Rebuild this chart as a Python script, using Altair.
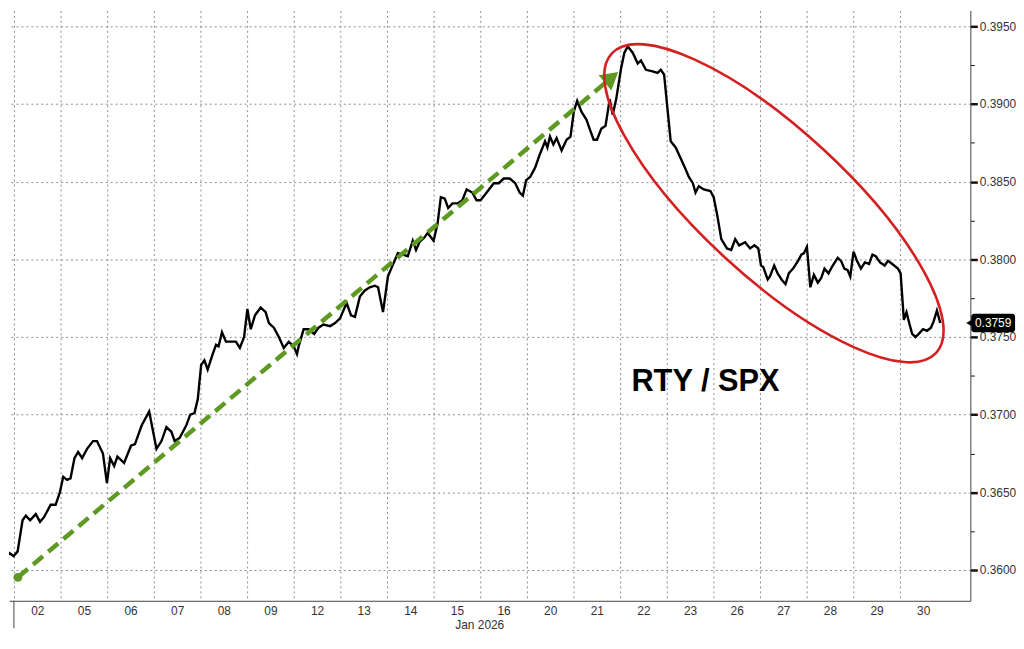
import altair as alt
import pandas as pd

# ---- data ----
DAYS = ["02", "05", "06", "07", "08", "09", "12", "13", "14", "15", "16",
        "20", "21", "22", "23", "26", "27", "28", "29", "30"]

# position in trading-day units (0 = start of Jan 02 session)
POS = [-0.277, -0.219, -0.100, -0.006, 0.079, 0.185, 0.255, 0.347, 0.468, 0.560,
       0.645, 0.787, 0.894, 0.985, 1.057, 1.142, 1.213, 1.298, 1.377, 1.462,
       1.568, 1.696, 1.781, 1.909, 1.994, 2.064, 2.149, 2.219, 2.362, 2.511,
       2.596, 2.738, 2.900, 3.057, 3.164, 3.270, 3.377, 3.447, 3.553, 3.694,
       3.781, 3.872, 3.943, 4.015, 4.085, 4.155, 4.262, 4.334, 4.389, 4.462,
       4.547, 4.687, 4.760, 4.845, 4.936, 5.006, 5.079, 5.170, 5.291, 5.398,
       5.468, 5.574, 5.681, 5.787, 5.894, 6.000, 6.070, 6.106, 6.213, 6.319,
       6.440, 6.532, 6.638, 6.781, 6.887, 6.994, 7.134, 7.228, 7.313, 7.419,
       7.526, 7.632, 7.738, 7.809, 7.915, 8.021, 8.091, 8.234, 8.340, 8.447,
       8.553, 8.623, 8.696, 8.802, 8.872, 9.000, 9.085, 9.155, 9.240, 9.313,
       9.404, 9.511, 9.617, 9.709, 9.830, 9.921, 10.006, 10.113, 10.291, 10.398,
       10.504, 10.632, 10.751, 10.845, 10.915, 10.985, 11.070, 11.177, 11.283, 11.390,
       11.440, 11.496, 11.568, 11.638, 11.745, 11.851, 11.936, 12.006, 12.079, 12.170,
       12.277, 12.347, 12.432, 12.504, 12.596, 12.687, 12.777, 12.841, 12.915, 13.021,
       13.091, 13.164, 13.270, 13.377, 13.447, 13.553, 13.696, 13.802, 13.872, 13.943,
       14.015, 14.085, 14.191, 14.298, 14.404, 14.474, 14.560, 14.617, 14.687, 14.794,
       14.936, 15.006, 15.079, 15.170, 15.291, 15.383, 15.468, 15.553, 15.681, 15.787,
       15.879, 15.964, 16.021, 16.070, 16.164, 16.213, 16.304, 16.376, 16.462, 16.547,
       16.617, 16.709, 16.815, 16.887, 16.943, 17.006, 17.079, 17.155, 17.240, 17.313,
       17.383, 17.468, 17.560, 17.666, 17.738, 17.809, 17.879, 17.936, 18.006, 18.079,
       18.164, 18.249, 18.340, 18.411, 18.483, 18.574, 18.674, 18.745, 18.836, 18.957,
       19.015, 19.085, 19.142, 19.191, 19.262, 19.334, 19.404, 19.496, 19.581, 19.666,
       19.723, 19.794, 19.866]

RATIO = [0.3606, 0.3605, 0.3611, 0.3609, 0.3612, 0.3632, 0.3635, 0.3632, 0.3636, 0.3631,
         0.3634, 0.3642, 0.3642, 0.3650, 0.3660, 0.3658, 0.3659, 0.3672, 0.3676, 0.3672,
         0.3678, 0.3683, 0.3683, 0.3675, 0.3656, 0.3672, 0.3667, 0.3673, 0.3669, 0.3680,
         0.3681, 0.3693, 0.3702, 0.3678, 0.3683, 0.3692, 0.3689, 0.3683, 0.3685, 0.3693,
         0.3700, 0.3701, 0.3710, 0.3732, 0.3735, 0.3729, 0.3739, 0.3745, 0.3744, 0.3753,
         0.3747, 0.3747, 0.3747, 0.3743, 0.3750, 0.3768, 0.3755, 0.3764, 0.3769, 0.3766,
         0.3759, 0.3756, 0.3750, 0.3743, 0.3747, 0.3744, 0.3739, 0.3744, 0.3755, 0.3755,
         0.3752, 0.3756, 0.3758, 0.3757, 0.3759, 0.3762, 0.3772, 0.3764, 0.3763, 0.3776,
         0.3780, 0.3782, 0.3783, 0.3782, 0.3766, 0.3789, 0.3794, 0.3804, 0.3803, 0.3802,
         0.3812, 0.3806, 0.3811, 0.3814, 0.3817, 0.3812, 0.3823, 0.3840, 0.3839, 0.3833,
         0.3836, 0.3836, 0.3838, 0.3845, 0.3843, 0.3838, 0.3838, 0.3842, 0.3849, 0.3849,
         0.3852, 0.3852, 0.3849, 0.3843, 0.3841, 0.3851, 0.3853, 0.3859, 0.3868, 0.3876,
         0.3872, 0.3879, 0.3874, 0.3878, 0.3870, 0.3877, 0.3879, 0.3895, 0.3902, 0.3895,
         0.3890, 0.3884, 0.3877, 0.3877, 0.3884, 0.3886, 0.3903, 0.3893, 0.3903, 0.3923,
         0.3933, 0.3937, 0.3933, 0.3926, 0.3928, 0.3922, 0.3921, 0.3920, 0.3922, 0.3919,
         0.3897, 0.3876, 0.3872, 0.3865, 0.3858, 0.3853, 0.3849, 0.3843, 0.3847, 0.3845,
         0.3844, 0.3840, 0.3829, 0.3813, 0.3807, 0.3806, 0.3813, 0.3809, 0.3811, 0.3807,
         0.3809, 0.3807, 0.3796, 0.3795, 0.3787, 0.3789, 0.3796, 0.3791, 0.3787, 0.3784,
         0.3791, 0.3794, 0.3799, 0.3803, 0.3804, 0.3808, 0.3782, 0.3790, 0.3785, 0.3788,
         0.3794, 0.3791, 0.3796, 0.3801, 0.3799, 0.3794, 0.3793, 0.3789, 0.3805, 0.3799,
         0.3794, 0.3798, 0.3797, 0.3803, 0.3802, 0.3798, 0.3796, 0.3799, 0.3797, 0.3794,
         0.3791, 0.3761, 0.3766, 0.3760, 0.3752, 0.3750, 0.3752, 0.3755, 0.3754, 0.3756,
         0.3760, 0.3767, 0.3759]

Y_TICKS = [0.3600, 0.3625, 0.3650, 0.3675, 0.3700, 0.3725, 0.3750, 0.3775,
           0.3800, 0.3825, 0.3850, 0.3875, 0.3900, 0.3925, 0.3950]

LAST_VALUE = 0.3759
LAST_LABEL = "0.3759"

# trend arrow (green dashed), start dot and head
TREND_POS = [0.085, 12.677]
TREND_RATIO = [0.35953, 0.39135]
HEAD_POS = [12.817]
HEAD_RATIO = [0.39171]

# red ellipse (centre)
ELLIPSE_POS = [16.298]
ELLIPSE_RATIO = [0.38361]

# annotation text
NOTE_TEXT = ["RTY / SPX"]
NOTE_POS = [14.83]
NOTE_RATIO = [0.3721]

# month separator below the axis (start of January session)
SEP_POS = [0.0]
SEP_FROM = [0.35802]
SEP_TO = [0.35625]

# ---- tables ----
df = pd.DataFrame({"pos": POS, "ratio": RATIO})
trend = pd.DataFrame({"pos": TREND_POS, "ratio": TREND_RATIO})
dot = trend.iloc[[0]]
head = pd.DataFrame({"pos": HEAD_POS, "ratio": HEAD_RATIO})
ell = pd.DataFrame({"pos": ELLIPSE_POS, "ratio": ELLIPSE_RATIO})
note = pd.DataFrame({"pos": NOTE_POS, "ratio": NOTE_RATIO, "txt": NOTE_TEXT})
box = pd.DataFrame({"pos": [20.53], "pos2": [21.47],
                    "ratio": [LAST_VALUE - 0.0006], "ratio2": [LAST_VALUE + 0.0006]})
lab = pd.DataFrame({"pos": [21.0], "ratio": [LAST_VALUE], "txt": [LAST_LABEL]})
ptr = pd.DataFrame({"pos": [20.50], "ratio": [LAST_VALUE]})
sep = pd.DataFrame({"pos": SEP_POS, "ratio": SEP_FROM, "ratio2": SEP_TO})

FONT = "Liberation Sans"
GRID = "#8c8c8c"
GREEN = "#5e9a22"

xscale = alt.Scale(domain=[-0.106, 20.511], nice=False, zero=False)
yscale = alt.Scale(domain=[0.35802, 0.39602], nice=False, zero=False)

label_arr = "[" + ",".join("'" + d + "'" for d in DAYS) + "]"
major = "round(datum.value*10000) % 50 === 0"

xaxis = alt.Axis(
    values=list(range(len(DAYS))),
    labelExpr=label_arr + "[datum.value]",
    labelOffset=23.5, labelFlush=False, labelOverlap=False,
    ticks=False, grid=True, gridDash=[2, 3], gridColor=GRID, gridWidth=1,
    domainColor="#444", domainWidth=1,
    labelFont=FONT, labelFontSize=12, labelColor="#333", labelPadding=5,
    title="Jan 2026", titleFont=FONT, titleFontSize=12, titleFontWeight="normal",
    titleColor="#333", titleX=474, titleAlign="center", titlePadding=3,
)

yaxis = alt.Axis(
    orient="right", values=Y_TICKS,
    labelExpr=major + " ? format(datum.value, '.4f') : ''",
    tickSize={"condition": {"test": major, "value": 7}, "value": 4},
    tickWidth={"condition": {"test": major, "value": 2.5}, "value": 1},
    tickColor="#111",
    grid=True, gridDash=[2, 3], gridColor=GRID,
    gridOpacity={"condition": {"test": major, "value": 1}, "value": 0},
    domainColor="#444", domainWidth=1,
    labelFont=FONT, labelFontSize=12, labelColor="#333", labelPadding=2,
    title=None,
)


def X():
    return alt.X("pos:Q", scale=xscale, axis=xaxis)


def Y():
    return alt.Y("ratio:Q", scale=yscale, axis=yaxis)


line = alt.Chart(df).mark_line(color="black", strokeWidth=2.4, clip=True).encode(
    x=X(), y=Y())

trend_line = alt.Chart(trend).mark_line(
    color=GREEN, strokeWidth=4.5, strokeDash=[13, 7]).encode(x=X(), y=Y())
trend_dot = alt.Chart(dot).mark_point(
    shape="circle", filled=True, color=GREEN, size=80, opacity=1).encode(x=X(), y=Y())
trend_head = alt.Chart(head).mark_point(
    shape="triangle-up", filled=True, color=GREEN, size=400, angle=50, opacity=1
).encode(x=X(), y=Y())

ELLIPSE_PATH = ("M 1 0 C 1 0.1828 0.5523 0.331 0 0.331 "
                "C -0.5523 0.331 -1 0.1828 -1 0 "
                "C -1 -0.1828 -0.5523 -0.331 0 -0.331 "
                "C 0.5523 -0.331 1 -0.1828 1 0 Z")
ellipse = alt.Chart(ell).mark_point(
    shape=ELLIPSE_PATH, filled=False, stroke="#d42020", strokeWidth=2.6,
    size=445 * 445, angle=42.7, opacity=1
).encode(x=X(), y=Y())

note_txt = alt.Chart(note).mark_text(
    font=FONT, fontSize=31, fontWeight="bold", color="black",
    align="center", baseline="middle"
).encode(x=X(), y=Y(), text="txt:N")

box_rect = alt.Chart(box).mark_rect(color="black", cornerRadius=3, clip=False).encode(
    x=X(), x2="pos2:Q", y=Y(), y2="ratio2:Q")
box_ptr = alt.Chart(ptr).mark_point(
    shape="triangle-left", filled=True, color="black", size=70, opacity=1
).encode(x=X(), y=Y())
box_txt = alt.Chart(lab).mark_text(
    font=FONT, fontSize=12, color="white", align="center", baseline="middle"
).encode(x=X(), y=Y(), text="txt:N")

sep_rule = alt.Chart(sep).mark_rule(color="#444", strokeWidth=1, clip=False).encode(
    x=X(), y=Y(), y2="ratio2:Q")

chart = alt.layer(
    line, trend_line, trend_dot, trend_head, ellipse, note_txt,
    box_rect, box_ptr, box_txt, sep_rule
).properties(
    width=969, height=595, padding=0, background="white"
).configure_view(strokeWidth=0)

chart.save("out.html", embed_options={"renderer": "svg", "actions": False})
